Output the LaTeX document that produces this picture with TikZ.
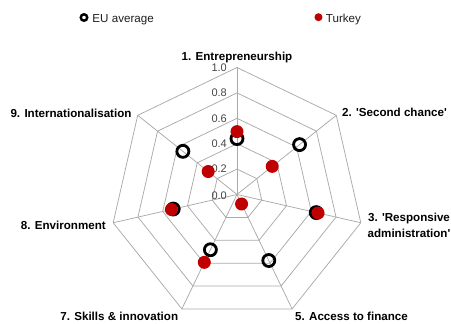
\documentclass[tikz,border=0pt]{standalone}
\usepackage{fontspec}
\setmainfont{Liberation Sans}
\definecolor{gridgray}{RGB}{170,170,170}
\definecolor{ticktext}{RGB}{70,70,70}
\definecolor{legtext}{RGB}{30,30,30}
\definecolor{trred}{RGB}{192,0,0}
\begin{document}
\begin{tikzpicture}[x=1pt,y=1pt,
  grid/.style={draw=gridgray, line width=0.75pt},
  axlabel/.style={font=\fontsize{11.6}{16}\selectfont\bfseries, inner sep=0pt, text=black},
  ticklabel/.style={font=\fontsize{11}{13}\selectfont, text=ticktext, anchor=east, inner sep=0pt},
  legtxt/.style={font=\fontsize{11.6}{14}\selectfont, text=legtext, anchor=base west, inner sep=0pt},
  eumark/.style={circle, draw=black, line width=2.8pt, minimum size=12pt, inner sep=0pt},
  trmark/.style={circle, fill=trred, minimum size=13pt, inner sep=0pt},
  eulegmark/.style={circle, draw=black, line width=2.4pt, minimum size=6.5pt, inner sep=0pt},
  trlegmark/.style={circle, fill=trred, minimum size=8pt, inner sep=0pt}]
\useasboundingbox (-237,-129.5) rectangle (214,194.5);
\coordinate (O) at (0,0);
% rings
\foreach \l in {1,...,5}{
  \draw[grid] (90:{25.4*\l}) \foreach \k in {1,...,6}{ -- ({90-\k*360/7}:{25.4*\l})} -- cycle;
}
% spokes
\foreach \k in {0,...,6}{
  \coordinate (v\k) at ({90-\k*360/7}:127);
  \draw[grid] (O) -- (v\k);
}
% tick labels
\foreach \l/\t in {0/0.0,1/0.2,2/0.4,3/0.6,4/0.8,5/1.0}{
  \node[ticklabel] (tick\l) at (-10,{25.4*\l-(\l==0)*1.5}) {\t};
}
% axis labels
\node[axlabel, anchor=base] (lab1) at (0,134) {1. Entrepreneurship};
\node[axlabel, anchor=base west] (lab2) at (105,77.8) {2. \textquotesingle Second chance\textquotesingle};
\node[axlabel, anchor=center, align=center] (lab3) at (172,-30.8) {3. \textquotesingle Responsive\\administration\textquotesingle};
\node[axlabel, anchor=base west] (lab5) at (58,-126.2) {5. Access to finance};
\node[axlabel, anchor=base east] (lab7) at (-58.7,-126.2) {7. Skills \& innovation};
\node[axlabel, anchor=base east] (lab8) at (-131,-34.8) {8. Environment};
\node[axlabel, anchor=base east] (lab9) at (-105.3,77) {9. Internationalisation};
% EU average markers
\foreach \k/\v in {0/0.44,1/0.63,2/0.64,3/0.577,4/0.483,5/0.515,6/0.545}{
  \node[eumark] (eu\k) at ({90-\k*360/7}:{127*\v}) {};
}
% Turkey markers
\foreach \k/\v in {0/0.495,1/0.355,2/0.655,3/0.083,4/0.593,5/0.53,6/0.29}{
  \node[trmark] (tr\k) at ({90-\k*360/7}:{127*\v}) {};
}
% legend
\node[eulegmark] (legeu) at (-153,177) {};
\node[legtxt] (legeutxt) at (-144.7,172.3) {EU average};
\node[trlegmark] (legtr) at (81.5,177.3) {};
\node[legtxt] (legtrtxt) at (88.7,172.3) {Turkey};
\end{tikzpicture}
\end{document}
